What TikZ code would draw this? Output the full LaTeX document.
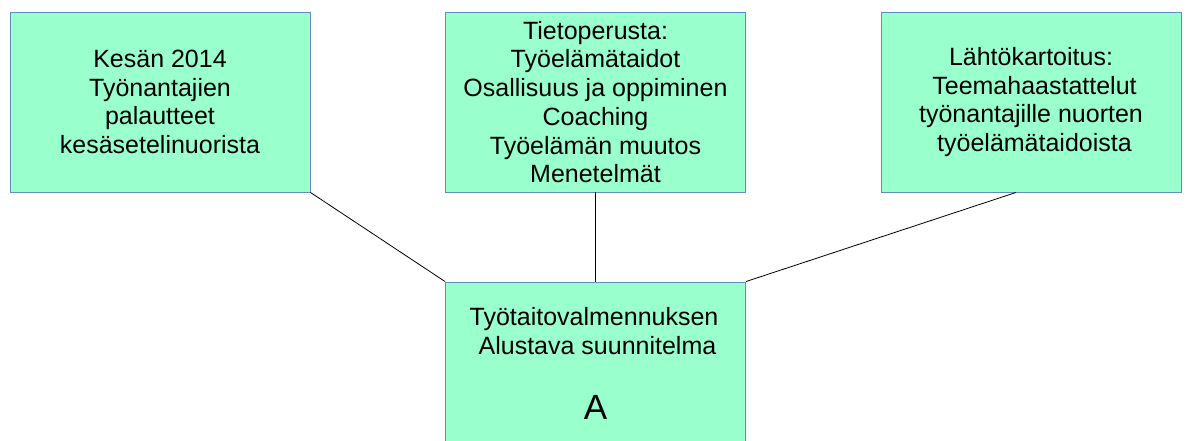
\documentclass[tikz,border=0pt]{standalone}
\usepackage{fontspec}
\setmainfont{Liberation Sans}
\definecolor{boxfill}{RGB}{153,255,204}
\definecolor{boxline}{RGB}{96,140,200}
\begin{document}
\begin{tikzpicture}[x=1pt,y=-1pt,
  box/.style={draw=boxline,fill=boxfill,line width=0.9pt,inner sep=0pt,
    minimum width=300pt,minimum height=180pt,align=center,
    font=\fontsize{25pt}{28.75pt}\selectfont},
  txt/.style={inner sep=0pt,align=center,font=\fontsize{25pt}{28.75pt}\selectfont},
  link/.style={draw=black,line width=0.8pt}]
\useasboundingbox (0,0) rectangle (1186,441);
\clip (0,0) rectangle (1186,441);
\node[box] (a) at (160,102) {Kesän 2014\\Työnantajien\\palautteet\\kesäsetelinuorista};
\node[box] (b) at (595.5,102) {Tietoperusta:\\Työelämätaidot\\Osallisuus ja oppiminen\\Coaching\\Työelämän muutos\\Menetelmät};
\node[box] (c) at (1031,102) {Lähtökartoitus:\\\mbox{}\ Teemahaastattelut\\työnantajille nuorten\\\mbox{}\ työelämätaidoista};
\node[box,minimum height=170pt] (d) at (595.5,367) {};
\node[txt] (dt) at (594,331) {Työtaitovalmennuksen\\\mbox{}\ Alustava suunnitelma};
\node[txt,font=\fontsize{35pt}{40pt}\selectfont] (dA) at (595.5,407.5) {A};
\draw[link] (a.south east) -- (d.north west);
\draw[link] (b.south) -- (d.north);
\draw[link] ([xshift=-15pt]c.south) -- (d.north east);
\end{tikzpicture}
\end{document}
